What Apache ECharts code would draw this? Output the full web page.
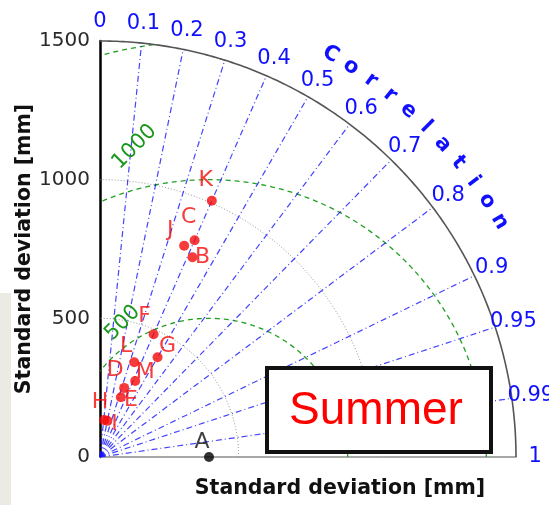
<!DOCTYPE html>
<html>
<head>
<meta charset="utf-8">
<script src="https://cdn.jsdelivr.net/npm/echarts@6/dist/echarts.min.js"></script>
<style>
html, body { margin: 0; padding: 0; background: #fff; }
#chart { width: 549px; height: 505px; }
</style>
</head>
<body>
<div id="chart"></div>
<script>
// Taylor diagram, summer season
const models = ['A', 'B', 'C', 'D', 'E', 'F', 'G', 'H', 'I', 'J', 'K', 'L', 'M'];
const stdDev = [393, 794, 853, 264, 228, 483, 415, 134, 133, 820, 1008, 363, 302];
const corr = [1, 0.42, 0.40, 0.33, 0.33, 0.40, 0.50, 0.11, 0.20, 0.37, 0.40, 0.34, 0.42];
const refStd = 393;
const maxStd = 1500;
const stdTicks = [0, 500, 1000, 1500];
const stdArcs = [500, 1000];
const rmsArcs = [500, 1000, 1500];
const rmsLabels = [500, 1000];
const corrTicks = [0, 0.1, 0.2, 0.3, 0.4, 0.5, 0.6, 0.7, 0.8, 0.9, 0.95, 0.99, 1];
const corrLines = [0.1, 0.2, 0.3, 0.4, 0.5, 0.6, 0.7, 0.8, 0.9, 0.95, 0.99];

// label offsets (px) of model names relative to their dots
const labelOffset = {
  A: [-7, -15], B: [10, 0], C: [-6, -23], D: [-9, -18], E: [10, 3], F: [-9, -18], G: [10, -11],
  H: [-4, -18], I: [7, 3], J: [-14, -15], K: [-6, -21], L: [-8, -16], M: [10, -9]
};

const chart = echarts.init(document.getElementById('chart'));
const deg = Math.PI / 180;

function arc(cx, r, from, to) {
  const pts = [];
  for (let i = 0; i <= 400; i++) {
    const t = (from + (to - from) * i / 400) * deg;
    const x = cx + r * Math.cos(t);
    const y = r * Math.sin(t);
    if (x < 0 || y < 0 || Math.hypot(x, y) > maxStd + 0.5) continue;
    pts.push([x, y]);
  }
  return pts;
}

function lineSeries(data, color, width, type) {
  return {
    type: 'line', data: data, showSymbol: false, silent: true, clip: false,
    lineStyle: { color: color, width: width, type: type }, z: 2
  };
}

function textSeries(items, color, font) {
  return {
    type: 'custom', silent: true, clip: false, z: 4,
    data: items.map(t => [t.x, t.y]),
    renderItem: function (params, api) {
      const t = items[params.dataIndex];
      const p = api.coord([t.x, t.y]);
      return {
        type: 'text', x: p[0], y: p[1], rotation: (t.rot || 0) * deg,
        style: { text: t.text, fill: color, font: font, align: 'center', verticalAlign: 'middle' }
      };
    }
  };
}

const series = [];

// std circles
stdArcs.forEach(r => series.push(lineSeries(arc(0, r, 0, 90), '#999', 1, [1, 2])));
// RMS circles around the reference
rmsArcs.forEach(r => series.push(lineSeries(arc(refStd, r, 0, 180), '#22a022', 1.3, [5, 4])));
// correlation rays
corrLines.forEach(c => series.push(lineSeries(
  [[0, 0], [maxStd * c, maxStd * Math.sqrt(1 - c * c)]], 'rgba(20,20,255,0.8)', 1.2, [6, 3, 1, 3])));
// outer arc
series.push(lineSeries(arc(0, maxStd, 0, 90), '#555', 1.6, 'solid'));

// correlation tick labels
const labR = 1569;
series.push(textSeries(corrTicks.map(c => ({
  x: labR * c, y: labR * Math.sqrt(1 - c * c), text: String(c)
})), '#1010ff', '21px "DejaVu Sans"'));

// curved "Correlation" title
const word = 'Correlation';
const wordR = 1673;
series.push(textSeries(word.split('').map((ch, i) => {
  const a = 60.2 - i * 2.97;
  return { x: wordR * Math.cos(a * deg), y: wordR * Math.sin(a * deg), text: ch, rot: a - 90 };
}), '#1010ff', 'bold 21px "DejaVu Sans"'));

// RMS labels
const rmsLabelAngle = { 500: 122.8, 1000: 103.5 };
series.push(textSeries(rmsLabels.map(r => {
  const a = rmsLabelAngle[r] * deg;
  return { x: refStd + r * 1.15 * Math.cos(a), y: r * 1.15 * Math.sin(a), text: String(r), rot: 45 };
}), '#1a961a', '21px "DejaVu Sans"'));

// model points
series.push({
  type: 'scatter', symbolSize: 10, clip: false, z: 6, silent: true,
  data: models.map((m, i) => ({
    value: [stdDev[i] * corr[i], stdDev[i] * Math.sqrt(1 - corr[i] * corr[i])],
    name: m,
    itemStyle: { color: m === 'A' ? '#000' : '#f50a0a' },
    label: { offset: labelOffset[m], color: m === 'A' ? '#111' : '#f50a0a' }
  })),
  label: {
    show: true, position: 'inside', formatter: '{b}',
    fontFamily: 'DejaVu Sans', fontSize: 22, align: 'center', verticalAlign: 'middle'
  }
});

const option = {
  animation: false,
  backgroundColor: '#fff',
  grid: { left: 100, top: 41, width: 416, height: 416 },
  xAxis: {
    type: 'value', min: 0, max: maxStd, interval: 500,
    axisLine: { lineStyle: { color: '#a8a8a8', width: 2 } },
    axisTick: { show: false }, axisLabel: { show: false }, splitLine: { show: false }
  },
  yAxis: {
    type: 'value', min: 0, max: maxStd, interval: 500,
    axisLine: { show: true, lineStyle: { color: '#000', width: 2.5 } },
    axisTick: { show: false }, splitLine: { show: false },
    axisLabel: {
      margin: 10, color: '#2a2a2a', fontFamily: 'DejaVu Sans', fontSize: 20,
      formatter: v => stdTicks.includes(v) ? String(v) : ''
    }
  },
  graphic: [
    { type: 'rect', z: 0, shape: { x: 0, y: 293, width: 11, height: 212 }, style: { fill: '#ecebe3' } },
    {
      type: 'text', x: 340, y: 489, z: 10,
      style: { text: 'Standard deviation [mm]', font: 'bold 20.5px "DejaVu Sans"', fill: '#111', align: 'center', verticalAlign: 'middle' }
    },
    {
      type: 'text', x: 25, y: 249, rotation: Math.PI / 2, z: 10,
      style: { text: 'Standard deviation [mm]', font: 'bold 20.5px "DejaVu Sans"', fill: '#111', align: 'center', verticalAlign: 'middle' }
    },
    {
      type: 'rect', z: 100, shape: { x: 267, y: 368, width: 224, height: 84 },
      style: { fill: '#fff', stroke: '#111', lineWidth: 4 }
    },
    {
      type: 'text', x: 376, y: 411, z: 101,
      style: { text: 'Summer', font: '46px "Liberation Sans"', fill: '#ff0000', align: 'center', verticalAlign: 'middle' }
    }
  ],
  series: series
};

chart.setOption(option);
window.addEventListener('resize', () => chart.resize());
</script>
</body>
</html>
